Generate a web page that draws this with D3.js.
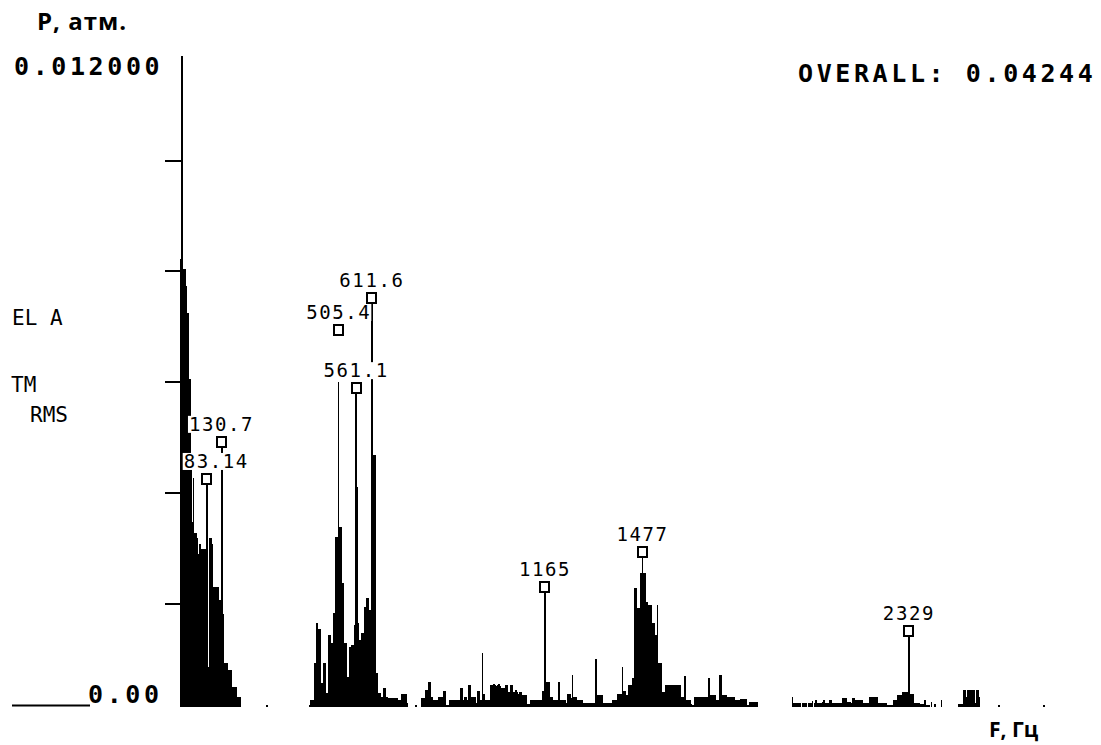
<!DOCTYPE html>
<html>
<head>
<meta charset="utf-8">
<script src="https://cdn.jsdelivr.net/npm/d3@7"></script>
<style>
  html, body { margin: 0; padding: 0; background: #fff; }
  svg { display: block; }
</style>
</head>
<body>
<svg id="chart" width="1101" height="745"></svg>
<script>
// Pressure spectrum, 4 Hz analyser lines. Amplitudes are in 10^-4 atm RMS.
const BIN_HZ = 4;

const lowBandStart = 0;      // 0 .. 276 Hz
const lowBand = [
  82.2, 82.2, 80.3, 80.3, 77.3, 72.3, 72.3, 60.4, 45.6, 34.7,
  42.6, 32.7, 32.7, 31.7, 28.8, 30.7, 29.8, 29.8, 29.8, 29.8,
  8.5, 42.4, 8.5, 31.7, 31.7, 30.7, 22.9, 22.9, 22.9, 22.9,
  22.9, 20.5, 12.0, 49.1, 18.0, 9.1, 9.1, 9.1, 7.9, 7.9,
  7.9, 4.8, 4.8, 4.8, 4.8, 3.0, 3.0, 3.0, 0, 0,
  0, 0, 0, 0, 0, 0, 0, 0, 0, 0,
  0, 0, 0, 0, 0, 0, 0, 0, 0, 1.6
];

const midBandStart = 400;    // 400 .. 796 Hz
const midBand = [
  0, 0, 0, 1.5, 2.5, 2.5, 2.5, 9.2, 9.2, 16.4,
  15.3, 15.3, 5.6, 5.6, 9.2, 9.2, 3.7, 3.7, 14.2, 14.2,
  12.8, 12.8, 18.2, 18.2, 31.9, 31.9, 59.9, 33.7, 33.7, 23.6,
  23.6, 12.8, 12.8, 6.7, 6.7, 12.0, 12.0, 12.4, 12.4, 16.0,
  58.8, 40.9, 16.4, 13.3, 13.3, 14.6, 14.6, 19.3, 19.3, 20.9,
  20.9, 18.8, 18.8, 75.1, 46.7, 46.7, 7.4, 7.4, 3.7, 3.7,
  3.0, 3.0, 4.6, 4.6, 3.0, 3.0, 2.8, 2.8, 2.8, 2.8,
  2.8, 2.8, 2.8, 2.8, 2.5, 2.5, 2.5, 3.6, 3.6, 3.6,
  3.6, 2.0, 0, 0, 0, 0, 0, 0, 1.6, 0,
  0, 0, 0, 2.8, 2.8, 2.8, 4.3, 4.3, 5.7, 5.7
];

const floorBandStart = 800;  // 800 .. 1596 Hz
const floorBand = [
  3.0, 3.0, 2.5, 2.5, 2.5, 2.5, 3.0, 3.0, 3.0, 3.0,
  4.1, 4.1, 1.6, 1.6, 1.6, 2.5, 2.5, 2.5, 2.5, 2.5,
  2.5, 2.5, 2.5, 2.5, 4.6, 4.6, 2.5, 3.0, 3.0, 2.5,
  5.2, 5.2, 2.5, 3.0, 3.0, 3.0, 2.0, 4.1, 4.1, 2.5,
  2.5, 11.0, 3.5, 2.5, 2.5, 2.5, 2.5, 2.5, 5.2, 5.2,
  5.4, 5.2, 5.0, 5.2, 5.4, 5.0, 4.6, 4.6, 4.6, 4.6,
  5.2, 5.2, 3.9, 3.9, 5.2, 5.2, 3.9, 3.9, 4.2, 3.9,
  3.6, 3.9, 3.9, 3.4, 3.4, 3.4, 3.4, 1.8, 1.8, 1.5,
  2.5, 2.5, 2.5, 2.5, 2.5, 2.5, 2.5, 2.5, 2.5, 4.1,
  4.1, 22.9, 5.7, 5.7, 5.7, 3.0, 3.0, 3.0, 2.5, 2.5,
  2.5, 2.5, 5.7, 2.5, 2.5, 2.5, 2.5, 2.5, 2.0, 3.6,
  3.6, 3.6, 2.8, 7.0, 3.0, 3.0, 3.0, 2.5, 2.5, 2.5,
  2.5, 2.5, 1.9, 1.9, 1.9, 1.9, 1.9, 1.9, 1.9, 1.9,
  1.9, 1.9, 9.8, 3.4, 3.4, 3.4, 3.4, 3.4, 1.9, 1.9,
  1.9, 1.9, 1.9, 1.9, 1.9, 2.5, 2.5, 2.5, 2.5, 3.6,
  3.6, 3.6, 3.6, 8.5, 4.1, 4.1, 3.4, 3.4, 5.2, 5.2,
  5.2, 6.5, 6.5, 22.7, 22.7, 19.1, 19.1, 19.1, 25.4, 29.2,
  25.4, 25.4, 20.1, 20.1, 19.6, 19.6, 19.6, 16.4, 16.4, 14.2,
  14.2, 19.6, 9.2, 9.2, 9.2, 3.9, 3.9, 3.9, 5.2, 5.2,
  5.2, 5.2, 5.2, 5.2, 5.2, 5.2, 5.2, 5.2, 5.2, 5.2
];

const upperBandStart = 1600; // 1600 .. 2760 Hz
const upperBand = [
  3.0, 3.0, 3.0, 6.8, 2.5, 2.5, 2.5, 2.5, 1.8, 1.5,
  1.5, 3.0, 3.0, 3.0, 3.0, 3.0, 3.0, 3.0, 3.0, 3.0,
  3.0, 3.0, 6.5, 3.4, 3.4, 3.4, 3.4, 3.4, 2.5, 2.5,
  2.5, 7.0, 7.0, 3.4, 3.4, 3.4, 3.4, 3.0, 3.0, 3.0,
  3.0, 3.0, 3.0, 2.5, 2.5, 2.5, 2.5, 2.5, 2.7, 2.7,
  2.7, 2.7, 2.7, 1.5, 1.5, 2.1, 2.1, 2.1, 2.1, 2.1,
  2.1, 2.1, 0, 0, 0, 0, 0, 0, 0, 0,
  0, 0, 0, 0, 0, 0, 0, 0, 0, 0,
  0, 0, 0, 0, 0, 0, 0, 0, 0, 3.0,
  1.9, 1.9, 1.9, 1.9, 1.9, 1.9, 0, 1.9, 1.9, 1.9,
  1.9, 0, 1.9, 1.9, 1.9, 2.3, 0, 1.9, 2.5, 1.9,
  1.9, 0, 1.9, 2.1, 2.5, 1.9, 1.9, 1.9, 2.0, 2.5,
  2.5, 1.9, 1.9, 1.9, 1.9, 1.9, 2.0, 1.9, 1.9, 2.8,
  2.8, 2.8, 2.8, 2.1, 2.1, 2.1, 1.9, 2.8, 2.8, 2.5,
  2.5, 2.5, 2.5, 2.5, 2.5, 2.5, 2.0, 2.0, 2.0, 2.0,
  2.0, 3.0, 3.0, 3.0, 3.0, 3.0, 3.0, 3.0, 2.0, 2.0,
  2.0, 2.0, 2.0, 2.0, 2.0, 1.5, 1.5, 1.5, 1.5, 1.5,
  2.5, 2.5, 2.5, 3.4, 3.4, 3.4, 3.4, 3.9, 3.9, 3.9,
  3.9, 3.9, 14.9, 3.6, 3.6, 3.6, 2.0, 2.0, 2.0, 2.0,
  2.0, 1.8, 1.8, 1.8, 0, 2.5, 1.5, 1.5, 1.5, 0,
  2.2, 0, 0, 1.8, 0, 0, 0, 0, 2.5, 0,
  0, 0, 0, 0, 0, 0, 0, 0, 0, 0,
  0, 0, 1.8, 1.8, 1.8, 1.8, 4.3, 4.3, 3.0, 4.3,
  2.0, 4.3, 4.3, 4.3, 4.3, 2.0, 4.3, 4.3, 3.0, 0,
  0, 0, 0, 0, 0, 0, 0, 0, 0, 0,
  0, 0, 0, 0, 1.6, 0, 0, 0, 0, 0,
  0, 0, 0, 0, 0, 0, 0, 0, 0, 0,
  0, 0, 0, 0, 0, 0, 0, 0, 0, 0,
  0, 0, 0, 0, 0, 0, 0, 0, 0, 0,
  1.6
];

// Peak markers: frequency (Hz) and marker level (atm)
const markerFreq = [83.14, 130.7, 505.4, 561.1, 611.6, 1165, 1477, 2329];
const markerAmp  = [0.00424, 0.00491, 0.00693, 0.00588, 0.00751, 0.00229, 0.00292, 0.00149];

// Vertical scale and readouts
const yTicks = [0.002, 0.004, 0.006, 0.008, 0.010];
const fullScaleLabel = "0.012000";
const zeroLabel = "0.00";
const overallLabel = "OVERALL: 0.04244";
const sideLabels = ["EL A", "TM", "RMS"];
const yTitle = "P, атм.";
const xTitle = "F, Гц";

// ---------------------------------------------------------------
const W = 1101, H = 745;
const svg = d3.select("#chart");

const bins = [];
[[lowBandStart, lowBand], [midBandStart, midBand],
 [floorBandStart, floorBand], [upperBandStart, upperBand]].forEach(([start, vals]) => {
  vals.forEach((v, k) => bins.push({ f: start + k * BIN_HZ, a: v * 1e-4 }));
});

const x = d3.scaleLinear().domain([0, 3200]).range([180.7, 1181.3]);
const y = d3.scaleLinear().domain([0, 0.012]).range([713.75, 49.25]);

const screenTop = 56, screenBottom = 707;
svg.append("defs").append("clipPath").attr("id", "screen")
  .append("rect").attr("x", 0).attr("y", screenTop).attr("width", W).attr("height", screenBottom - screenTop);

const plot = svg.append("g").attr("clip-path", "url(#screen)");

// amplitude axis with tick marks only
const axisX = x(0) + 1;
plot.append("g")
  .attr("transform", `translate(${axisX},0)`)
  .call(d3.axisLeft(y).tickValues(yTicks).tickSize(17).tickSizeOuter(0).tickFormat(""))
  .call(g => g.selectAll("path, line").attr("stroke", "#000").attr("stroke-width", 2))
  .attr("shape-rendering", "crispEdges");

// spectrum lines
const bw = x(BIN_HZ) - x(0);
plot.append("g")
  .attr("shape-rendering", "crispEdges")
  .selectAll("rect")
  .data(bins.filter(d => d.a > 0))
  .join("rect")
  .attr("x", d => x(d.f) - bw / 2)
  .attr("width", bw + 0.5)
  .attr("y", d => y(d.a))
  .attr("height", d => y(0) - y(d.a))
  .attr("fill", "#000");

// zero reference stub on the left
svg.append("line")
  .attr("x1", 12).attr("x2", 90)
  .attr("y1", screenBottom - 1.5).attr("y2", screenBottom - 1.5)
  .attr("stroke", "#000").attr("stroke-width", 2);

// display readouts
const bold = { "font-family": "DejaVu Sans Mono", "font-weight": "bold", "font-size": "25px", "letter-spacing": "3.6px" };
function styled(sel, st) { Object.entries(st).forEach(([k, v]) => sel.attr(k, v)); return sel; }

styled(svg.append("text").attr("x", 14).attr("y", 75).text(fullScaleLabel), bold);
styled(svg.append("text").attr("x", 798).attr("y", 82).text(overallLabel), bold);
styled(svg.append("text").attr("x", 88).attr("y", 703).text(zeroLabel), bold);

const side = svg.append("g")
  .attr("font-family", "DejaVu Sans Mono").attr("font-size", "21px").attr("fill", "#000");
side.append("text").attr("x", 12).attr("y", 325).text(sideLabels[0]);
side.append("text").attr("x", 11).attr("y", 392).text(sideLabels[1]);
side.append("text").attr("x", 30).attr("y", 422).text(sideLabels[2]);

// peak markers
const markers = markerFreq.map((f, i) => ({ f, a: markerAmp[i], label: String(f) }));
const sqW = 9, sqH = 10;
const mg = svg.append("g");
markers.forEach(m => {
  const cx = x(m.f), cy = y(m.a);
  const t = mg.append("text")
    .attr("font-family", "DejaVu Sans Mono").attr("font-size", "19px").attr("letter-spacing", "1.6px")
    .attr("y", cy - sqH / 2 - 6)
    .text(m.label);
  const w = t.node().getComputedTextLength();
  const left = Math.max(cx - w / 2, axisX + 2);
  t.attr("x", left);
  mg.insert("rect", () => t.node())
    .attr("x", left - 1).attr("y", cy - sqH / 2 - 6 - 15)
    .attr("width", w + 1).attr("height", 17)
    .attr("fill", "#fff");
  mg.append("rect")
    .attr("x", cx - sqW / 2).attr("y", cy - sqH / 2)
    .attr("width", sqW).attr("height", sqH)
    .attr("fill", "#fff").attr("stroke", "#000").attr("stroke-width", 2)
    .attr("shape-rendering", "crispEdges");
});

// axis titles
svg.append("text").attr("x", 37).attr("y", 30)
  .attr("font-family", "Open Sans").attr("font-weight", "bold").attr("font-size", "24px")
  .attr("letter-spacing", "1px")
  .text(yTitle);
svg.append("text").attr("x", 989).attr("y", 737)
  .attr("font-family", "Open Sans").attr("font-weight", "bold").attr("font-size", "21px")
  .text(xTitle);
</script>
</body>
</html>
